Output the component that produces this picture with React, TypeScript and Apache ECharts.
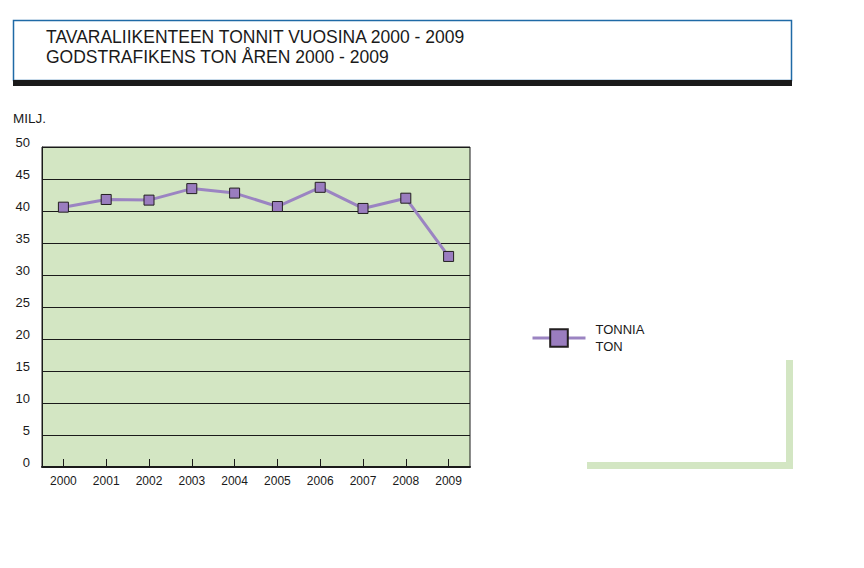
import React, { useEffect, useRef } from "react";
import * as echarts from "echarts";

const years = ["2000", "2001", "2002", "2003", "2004", "2005", "2006", "2007", "2008", "2009"];
const tonnes = [40.6, 41.8, 41.7, 43.5, 42.8, 40.7, 43.7, 40.4, 42.0, 32.9];
const seriesName = "TONNIA\nTON";
const titleLines = ["TAVARALIIKENTEEN TONNIT VUOSINA 2000 - 2009", "GODSTRAFIKENS TON ÅREN 2000 - 2009"];
const unitLabel = "MILJ.";

const GREEN = "#d3e6c3";
const PURPLE = "#9b84c2";
const FONT = "'Liberation Sans', Arial, Helvetica, sans-serif";

export default function App() {
  const ref = useRef<HTMLDivElement>(null);
  useEffect(() => {
    if (!ref.current) return;
    const chart = echarts.init(ref.current, null, { renderer: "svg" });
    chart.setOption({
      animation: false,
      backgroundColor: "#ffffff",
      title: {
        text: titleLines.join("\n"),
        left: 46,
        top: 27,
        padding: 0,
        textStyle: { fontFamily: FONT, fontSize: 17.5, fontWeight: "normal", color: "#1a1a1a", lineHeight: 20 },
      },
      graphic: [
        { type: "rect", shape: { x: 13.5, y: 20.5, width: 778, height: 60 }, style: { fill: "none", stroke: "#1f6aa6", lineWidth: 1.5 }, z: -1 },
        { type: "rect", shape: { x: 13, y: 80, width: 779, height: 6 }, style: { fill: "#1a1a1a" } },
        { type: "text", left: 13, top: 111, style: { text: unitLabel, fontFamily: FONT, fontSize: 13.5, fill: "#1a1a1a" } },
        { type: "rect", shape: { x: 786, y: 360, width: 7, height: 109 }, style: { fill: GREEN } },
        { type: "rect", shape: { x: 587, y: 462, width: 206, height: 7 }, style: { fill: GREEN } },
      ],
      legend: {
        left: 531,
        top: 321,
        padding: 0,
        itemWidth: 53,
        itemHeight: 22,
        itemGap: 10,
        lineStyle: { width: 3, color: PURPLE },
        textStyle: { fontFamily: FONT, fontSize: 13, color: "#1a1a1a", lineHeight: 17, padding: [0, 0, 0, 5] },
        data: [seriesName],
      },
      grid: {
        left: 42,
        top: 147,
        width: 428,
        height: 320,
        show: true,
        backgroundColor: GREEN,
        borderColor: "#1a1a1a",
        borderWidth: 1,
      },
      xAxis: {
        type: "category",
        data: years,
        boundaryGap: true,
        axisLine: { show: true, lineStyle: { color: "#1a1a1a", width: 2 } },
        axisTick: { show: true, alignWithLabel: true, inside: true, length: 8, lineStyle: { color: "#1a1a1a", width: 1 } },
        axisLabel: { margin: 8, fontFamily: FONT, fontSize: 12, color: "#1a1a1a" },
        splitLine: { show: false },
      },
      yAxis: {
        type: "value",
        min: 0,
        max: 50,
        interval: 5,
        axisLine: { show: true, lineStyle: { color: "#1a1a1a", width: 1 } },
        axisTick: { show: false },
        axisLabel: { margin: 12, fontFamily: FONT, fontSize: 13, color: "#1a1a1a", verticalAlign: "bottom", lineHeight: 9 },
        splitLine: { show: true, lineStyle: { color: "#1a1a1a", width: 1 } },
      },
      series: [
        {
          name: seriesName,
          type: "line",
          data: tonnes,
          symbol: "rect",
          symbolSize: 10,
          lineStyle: { color: PURPLE, width: 3 },
          itemStyle: { color: "#9a7dbf", borderColor: "#231f20", borderWidth: 1 },
        },
      ],
    });
    return () => chart.dispose();
  }, []);
  return <div ref={ref} style={{ position: "fixed", left: 0, top: 0, width: 864, height: 568 }} />;
}
